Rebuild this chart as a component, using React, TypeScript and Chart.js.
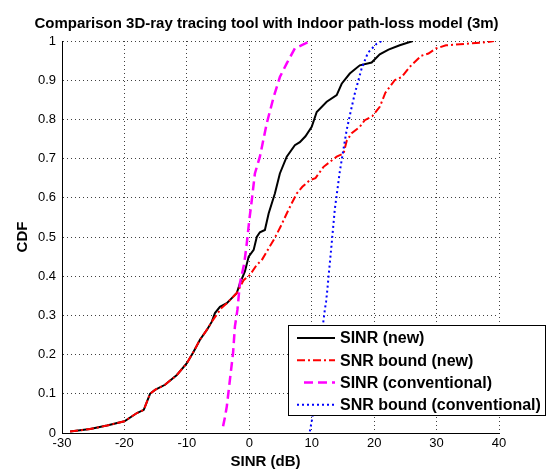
import React, { useEffect, useRef } from "react";
import { Chart, registerables } from "chart.js";

Chart.register(...registerables);

// ---- data ----
const titleText = "Comparison 3D-ray tracing tool with Indoor path-loss model (3m)";
const xAxisTitle = "SINR (dB)";
const yAxisTitle = "CDF";

const xTickValues = [-30, -20, -10, 0, 10, 20, 30, 40];
const yTickValues = [0, 0.1, 0.2, 0.3, 0.4, 0.5, 0.6, 0.7, 0.8, 0.9, 1];
const yTickLabels = ["0", "0.1", "0.2", "0.3", "0.4", "0.5", "0.6", "0.7", "0.8", "0.9", "1"];

const seriesNames = ["SINR (new)", "SNR bound (new)", "SINR (conventional)", "SNR bound (conventional)"];

const sinrNewX = [-28.7, -25.5, -22.8, -20, -18, -16.9, -15.9, -15.1, -13.5, -11.6, -10, -8.9, -7.9, -6.8, -6, -5.5, -4.7, -3.6, -2.8, -2, -1.5, -0.7, -0.1, 0.7, 1.2, 1.7, 2.5, 3.1, 4.1, 4.9, 6, 7.3, 8.1, 9, 10, 10.8, 12.4, 14, 14.8, 16.1, 17.7, 19.6, 20.9, 22.3, 24.1, 26.2];
const sinrNewY = [0.004, 0.01, 0.019, 0.03, 0.051, 0.059, 0.1, 0.11, 0.123, 0.148, 0.178, 0.208, 0.238, 0.263, 0.284, 0.306, 0.322, 0.331, 0.344, 0.357, 0.382, 0.412, 0.45, 0.467, 0.5, 0.512, 0.518, 0.56, 0.611, 0.662, 0.705, 0.734, 0.742, 0.757, 0.781, 0.819, 0.845, 0.862, 0.891, 0.917, 0.938, 0.945, 0.966, 0.978, 0.989, 1.0];

const snrNewX = [-28.7, -25.5, -22.8, -20, -18, -16.9, -15.9, -15.1, -13.5, -11.6, -10, -8.9, -7.9, -6.8, -6, -5.3, -4.5, -3.6, -2.8, -2, -0.9, 0.1, 1.2, 2, 3.1, 3.9, 5, 6, 6.8, 7.6, 8.5, 9.7, 10.6, 11.9, 14, 15.1, 15.6, 16.4, 17.7, 18.5, 19.7, 20.9, 21.8, 23.3, 24.4, 25.7, 27.5, 28.7, 29.9, 31.5, 34.7, 37.9, 39.2];
const snrNewY = [0.004, 0.01, 0.019, 0.03, 0.051, 0.059, 0.1, 0.11, 0.123, 0.148, 0.178, 0.208, 0.238, 0.263, 0.284, 0.3, 0.318, 0.331, 0.344, 0.357, 0.39, 0.403, 0.429, 0.441, 0.471, 0.492, 0.526, 0.56, 0.586, 0.611, 0.628, 0.645, 0.65, 0.679, 0.705, 0.713, 0.745, 0.765, 0.781, 0.798, 0.808, 0.832, 0.868, 0.9, 0.908, 0.934, 0.962, 0.968, 0.981, 0.989, 0.993, 0.997, 1.0];

const sinrConvX = [-4.2, -3.9, -3.6, -3.1, -2.6, -2.3, -1.9, -1.5, -0.8, -0.4, 0, 0.4, 0.9, 1.7, 2.8, 3.9, 4.9, 6, 7.3, 8.9, 9.7];
const sinrConvY = [0.017, 0.04, 0.068, 0.136, 0.204, 0.272, 0.314, 0.382, 0.433, 0.484, 0.543, 0.594, 0.662, 0.705, 0.79, 0.857, 0.908, 0.943, 0.981, 0.993, 1.0];

const snrConvX = [9.7, 10.05, 10.6, 11.2, 11.9, 12.1, 12.3, 12.5, 12.7, 12.9, 13.2, 13.7, 14.5, 15.2, 15.6, 16.1, 16.9, 18, 19, 20.4, 21.2];
const snrConvY = [0.004, 0.034, 0.1, 0.2, 0.289, 0.314, 0.335, 0.365, 0.4, 0.433, 0.484, 0.571, 0.667, 0.735, 0.773, 0.81, 0.866, 0.93, 0.97, 0.993, 1.0];

// ---- styles ----
const FONT = 'Arial, "Liberation Sans", sans-serif';
const seriesStyles = [
  { color: "#000000", width: 2, dash: [] as number[] },
  { color: "#ff0000", width: 2, dash: [8, 3, 2, 3] },
  { color: "#ff00ff", width: 2.5, dash: [9, 5] },
  { color: "#0000ff", width: 2, dash: [2, 3] },
];

const toPoints = (xs: number[], ys: number[]) => xs.map((x, i) => ({ x, y: ys[i] }));

const textPlugin = {
  id: "textAndLegend",
  afterDraw(chart: any) {
    const ctx = chart.ctx as CanvasRenderingContext2D;
    ctx.save();
    ctx.fillStyle = "#000";
    ctx.textAlign = "center";
    ctx.textBaseline = "middle";
    ctx.font = `bold 15px ${FONT}`;
    ctx.fillText(titleText, 266.5, 24);
    ctx.fillText(xAxisTitle, 265.5, 462);
    ctx.save();
    ctx.translate(23, (chart.chartArea.top + chart.chartArea.bottom) / 2);
    ctx.rotate(-Math.PI / 2);
    ctx.fillText(yAxisTitle, 0, 0);
    ctx.restore();

    // legend box
    const bx = 288.5, by = 325.5, bw = 257, bh = 90;
    ctx.fillStyle = "#fff";
    ctx.fillRect(bx, by, bw, bh);
    ctx.strokeStyle = "#000";
    ctx.lineWidth = 1;
    ctx.setLineDash([]);
    ctx.strokeRect(bx, by, bw, bh);
    const rowY = [338, 360.3, 382.6, 404.8];
    ctx.textAlign = "left";
    ctx.font = `bold 16px ${FONT}`;
    seriesNames.forEach((name, i) => {
      const st = seriesStyles[i];
      ctx.strokeStyle = st.color;
      ctx.lineWidth = st.width;
      ctx.setLineDash(st.dash);
      ctx.beginPath();
      const x0 = i === 2 ? 304 : 297;
      ctx.moveTo(x0, rowY[i]);
      ctx.lineTo(335, rowY[i]);
      ctx.stroke();
      ctx.setLineDash([]);
      ctx.fillStyle = "#000";
      ctx.fillText(name, 340, rowY[i] + 1);
    });
    ctx.restore();
  },
};

export default function App() {
  const ref = useRef<HTMLCanvasElement | null>(null);
  useEffect(() => {
    if (!ref.current) return;
    const series = [
      toPoints(sinrNewX, sinrNewY),
      toPoints(snrNewX, snrNewY),
      toPoints(sinrConvX, sinrConvY),
      toPoints(snrConvX, snrConvY),
    ];
    const orders = [4, 3, 2, 1];
    const chart = new Chart(ref.current, {
      type: "scatter",
      data: {
        datasets: series.map((data, i) => ({
          label: seriesNames[i],
          data,
          showLine: true,
          borderColor: seriesStyles[i].color,
          backgroundColor: seriesStyles[i].color,
          borderWidth: seriesStyles[i].width,
          borderDash: seriesStyles[i].dash,
          pointRadius: 0,
          tension: 0,
          order: orders[i],
        })),
      },
      options: {
        responsive: false,
        animation: false,
        devicePixelRatio: 1,
        layout: { padding: { top: 41, right: 50, left: 0, bottom: 0 } },
        plugins: {
          legend: { display: false },
          title: { display: false },
          tooltip: { enabled: false },
        },
        scales: {
          x: {
            type: "linear",
            min: -30,
            max: 40,
            afterBuildTicks: (s: any) => { s.ticks = xTickValues.map((v) => ({ value: v })); },
            afterFit: (s: any) => { s.height = 37; },
            ticks: { color: "#000", font: { family: FONT, size: 13 }, padding: 3, callback: (v: any) => String(v) },
            grid: { color: "rgba(0,0,0,0.75)", lineWidth: 1, drawTicks: false },
            border: { display: true, color: "#000", width: 1, dash: [1, 3] },
          },
          y: {
            type: "linear",
            min: 0,
            max: 1,
            afterBuildTicks: (s: any) => { s.ticks = yTickValues.map((v) => ({ value: v })); },
            afterFit: (s: any) => { s.width = 62; },
            ticks: {
              color: "#000",
              font: { family: FONT, size: 13 },
              padding: 6,
              callback: (v: any) => {
                const idx = yTickValues.findIndex((t) => Math.abs(t - v) < 1e-6);
                return idx >= 0 ? yTickLabels[idx] : "";
              },
            },
            grid: { color: "rgba(0,0,0,0.75)", lineWidth: 1, drawTicks: false },
            border: { display: true, color: "#000", width: 1, dash: [1, 3] },
          },
        },
      },
      plugins: [textPlugin],
    } as any);
    return () => chart.destroy();
  }, []);
  return (
    <div style={{ position: "absolute", left: 0, top: 0, width: 549, height: 470, background: "#fff" }}>
      <canvas ref={ref} width={549} height={470} style={{ width: 549, height: 470, display: "block" }} />
    </div>
  );
}
